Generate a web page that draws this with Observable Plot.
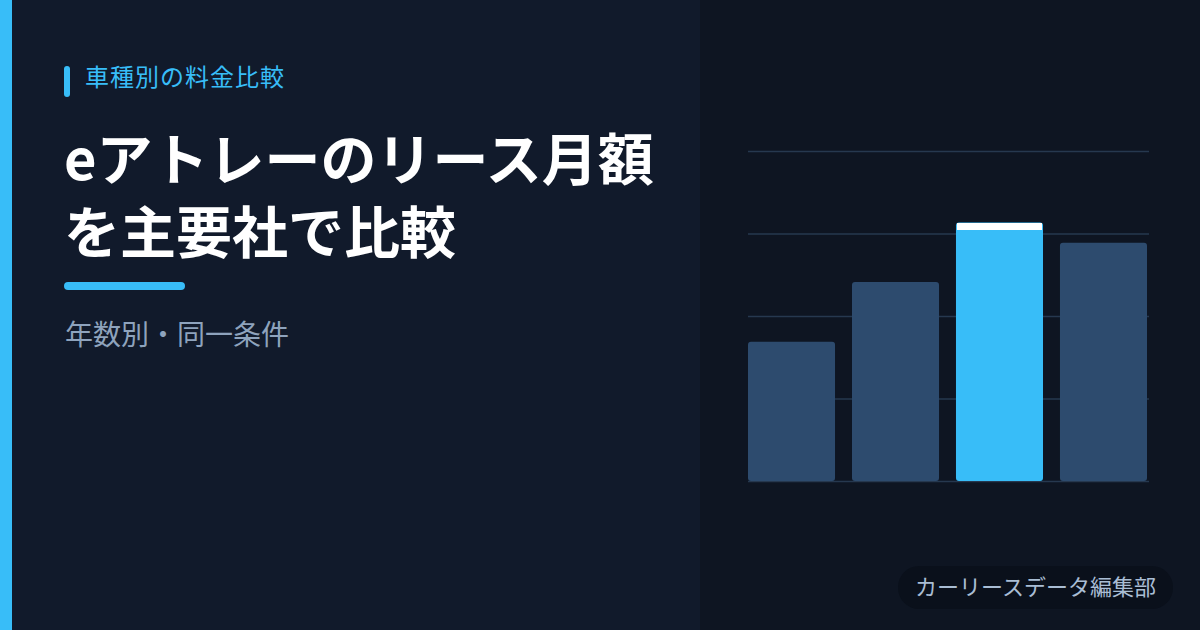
<!DOCTYPE html>
<html lang="ja">
<head>
<meta charset="utf-8">
<script src="https://cdn.jsdelivr.net/npm/d3@7"></script>
<script src="https://cdn.jsdelivr.net/npm/@observablehq/plot@0.6"></script>
<style>
  html, body { margin: 0; padding: 0; }
  body {
    width: 1200px; height: 630px; overflow: hidden; position: relative;
    background: #111a2b;
    font-family: "Noto Sans CJK JP", "Noto Sans", sans-serif;
  }
  .right-panel { position: absolute; left: 700px; top: 0; width: 500px; height: 630px; background: #0e1522; }
  .stripe { position: absolute; left: 0; top: 0; width: 12px; height: 630px; background: #38bdf8; }
  .tag-mark { position: absolute; left: 64px; top: 66px; width: 6px; height: 31px; border-radius: 3px; background: #38bdf8; }
  .tag { position: absolute; left: 85px; top: 64px; font-size: 24px; line-height: 1; letter-spacing: 1px; color: #38bdf8; white-space: nowrap; }
  .title { position: absolute; left: 64px; top: 119px; font-size: 56px; font-weight: 700; line-height: 73px; color: #ffffff; white-space: nowrap; margin: 0; }
  .underline { position: absolute; left: 64px; top: 282px; width: 121px; height: 8px; border-radius: 4px; background: #38bdf8; }
  .subtitle { position: absolute; left: 65px; top: 319px; font-size: 28px; line-height: 1; color: #8ea3bd; white-space: nowrap; }
  .badge { position: absolute; left: 898px; top: 566px; width: 275px; height: 43px; border-radius: 21px; background: #0a101b; box-sizing: border-box; padding-left: 17px; font-size: 22px; line-height: 38px; color: #a9bdd4; white-space: nowrap; }
  #chart { position: absolute; left: 748px; top: 140px; }
</style>
</head>
<body>
<div class="right-panel"></div>
<div class="stripe"></div>
<div class="tag-mark"></div>
<div class="tag">車種別の料金比較</div>
<h1 class="title">eアトレーのリース月額<br>を主要社で比較</h1>
<div class="underline"></div>
<div class="subtitle">年数別・同一条件</div>
<div id="chart"></div>
<div class="badge">カーリースデータ編集部</div>
<script>
// Data (monthly lease, yen)
const companies = ["A社", "B社", "C社", "D社"];
const prices = [25300, 36200, 47000, 43300];
const highlightCompany = "C社";
const yTicks = [0, 15000, 30000, 45000, 60000];

const data = companies.map((c, i) => ({company: c, price: prices[i]}));
const normal = data.filter(d => d.company !== highlightCompany);
const focus = data.filter(d => d.company === highlightCompany);

const chart = Plot.plot({
  width: 401,
  height: 350,
  marginTop: 11,
  marginBottom: 9,
  marginLeft: 0,
  marginRight: 0,
  style: {background: "transparent", overflow: "visible"},
  x: {domain: companies, range: [0, 399], padding: 0.163, paddingOuter: 0, round: false, axis: null},
  y: {domain: [0, 60000], axis: null},
  marks: [
    Plot.ruleY(yTicks, {stroke: "#26384f", strokeWidth: 1.6}),
    Plot.barY(normal, {x: "company", y: "price", fill: "#2d4b6e", rx: 3}),
    Plot.barY(focus, {x: "company", y: "price", fill: "#38bdf8", rx: 3}),
    Plot.tickY(focus, {x: "company", y: "price", stroke: "#ffffff", strokeWidth: 7, dy: 3.5, insetLeft: 1, insetRight: 1})
  ]
});
document.getElementById("chart").appendChild(chart);
</script>
</body>
</html>
